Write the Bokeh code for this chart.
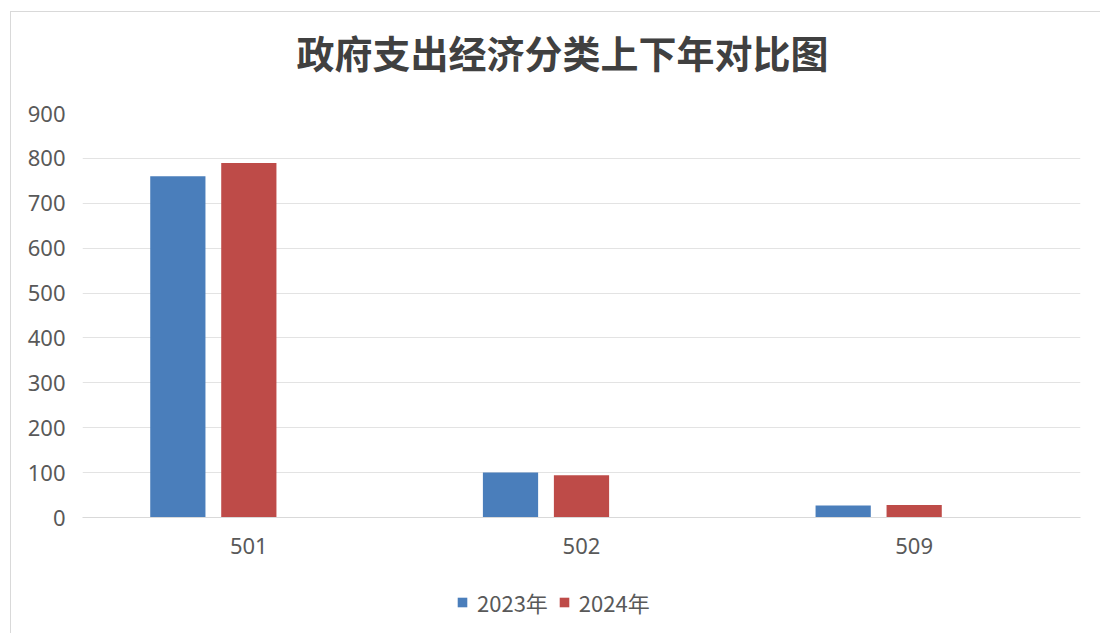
from bokeh.plotting import figure
from bokeh.layouts import column
from bokeh.models import FactorRange, Range1d, Legend, LegendItem, ColumnDataSource, FixedTicker
from bokeh.transform import dodge
from bokeh.embed import file_html
from bokeh.resources import INLINE

categories = ["501", "502", "509"]
values_2023 = [760, 100, 27]
values_2024 = [790, 94, 28]
series_names = ["2023年", "2024年"]
series_colors = ["#4A7EBB", "#BE4B48"]
y_ticks = [0, 100, 200, 300, 400, 500, 600, 700, 800, 900]
title_text = "政府支出经济分类上下年对比图"

source = ColumnDataSource(data=dict(cat=categories, v2023=values_2023, v2024=values_2024))

# title strip
ts = figure(width=1089, height=81, x_range=Range1d(0, 1), y_range=Range1d(0, 1),
            x_axis_type=None, y_axis_type=None,
            output_backend="svg", toolbar_location=None,
            min_border_left=0, min_border_right=0, min_border_top=66, min_border_bottom=0)
ts.outline_line_color = None
ts.grid.grid_line_color = None
ts.title.text = title_text
ts.title.align = "left"
ts.title.offset = 214
ts.title.standoff = 0
ts.title.vertical_align = "bottom"
ts.title.text_font = "Noto Sans CJK SC"
ts.title.text_font_size = "38px"
ts.title.text_font_style = "bold"
ts.title.text_color = "#404040"

# main chart
p = figure(
    x_range=FactorRange(*categories, range_padding=0),
    y_range=Range1d(0, 900),
    width=1089, height=482,
    output_backend="svg", toolbar_location=None,
    min_border_left=71, min_border_right=20, min_border_top=20, min_border_bottom=58,
)
p.outline_line_color = None

bw = 0.166
r1 = p.vbar(x=dodge("cat", -0.2134, range=p.x_range), top="v2023", width=bw, source=source,
            fill_color=series_colors[0], line_color=None)
r2 = p.vbar(x=dodge("cat", 0.0, range=p.x_range), top="v2024", width=bw, source=source,
            fill_color=series_colors[1], line_color=None)

p.yaxis.ticker = FixedTicker(ticks=y_ticks)
p.yaxis.axis_line_color = None
p.yaxis.major_tick_line_color = None
p.yaxis.major_tick_out = 0
p.yaxis.major_tick_in = 0
p.yaxis.minor_tick_line_color = None
p.yaxis.major_label_text_font = "Noto Sans"
p.yaxis.major_label_text_font_size = "22px"
p.yaxis.major_label_text_color = "#595959"
p.yaxis.major_label_standoff = 17

p.xaxis.axis_line_color = "#d9d9d9"
p.xaxis.major_tick_line_color = None
p.xaxis.major_tick_out = 0
p.xaxis.major_tick_in = 0
p.xaxis.minor_tick_line_color = None
p.xaxis.major_label_text_font = "Noto Sans"
p.xaxis.major_label_text_font_size = "22px"
p.xaxis.major_label_text_color = "#595959"
p.xaxis.major_label_standoff = 20

p.xgrid.grid_line_color = None
p.ygrid.grid_line_color = "#e3e3e3"
p.ygrid.grid_line_width = 1

# legend strip below the chart (series kept out of view; only the legend shows)
lg = figure(width=1089, height=58, x_range=FactorRange(*categories), y_range=Range1d(5000, 6000),
            x_axis_type=None, y_axis_type=None,
            output_backend="svg", toolbar_location=None,
            min_border_left=0, min_border_right=0, min_border_top=0, min_border_bottom=0)
lg.grid.grid_line_color = None
lg.outline_line_color = None
l1 = lg.vbar(x="cat", top="v2023", width=0.001, source=source, fill_color=series_colors[0], line_color=None)
l2 = lg.vbar(x="cat", top="v2024", width=0.001, source=source, fill_color=series_colors[1], line_color=None)

legend = Legend(items=[LegendItem(label=series_names[0], renderers=[l1]),
                       LegendItem(label=series_names[1], renderers=[l2])],
                orientation="horizontal", location=(374, 15))
legend.label_text_font = "Noto Sans CJK SC"
legend.label_text_font_size = "22px"
legend.label_text_color = "#595959"
legend.glyph_width = 12
legend.glyph_height = 12
legend.label_standoff = 9
legend.spacing = 10
legend.border_line_color = None
legend.background_fill_alpha = 0
legend.margin = 0
legend.padding = 4
lg.add_layout(legend, "center")

layout = column(ts, p, lg, spacing=0,
                styles={"border-left": "1px solid #d9d9d9", "border-top": "1px solid #d9d9d9",
                        "margin-left": "10px", "margin-top": "11px"})
open("out.html", "w").write(file_html(layout, INLINE))
